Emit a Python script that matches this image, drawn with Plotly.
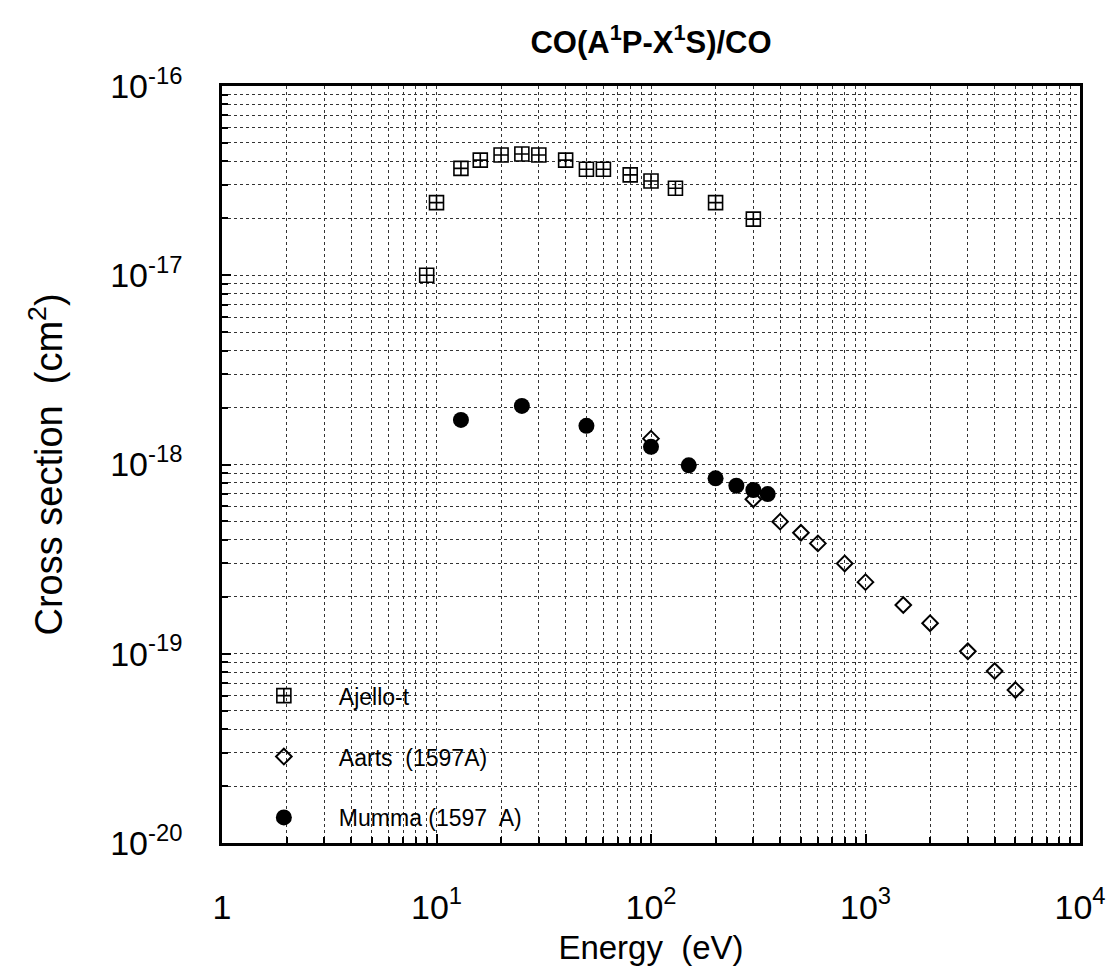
import plotly.graph_objects as go

# ---------------- data ----------------
ajello_energy = [9, 10, 13, 16, 20, 25, 30, 40, 50, 60, 80, 100, 130, 200, 300]
ajello_cross = [1.0e-17, 2.42e-17, 3.67e-17, 4.06e-17, 4.32e-17, 4.37e-17, 4.32e-17,
                4.06e-17, 3.63e-17, 3.63e-17, 3.39e-17, 3.15e-17, 2.88e-17, 2.42e-17, 1.98e-17]

aarts_energy = [100, 300, 400, 500, 600, 800, 1000, 1500, 2000, 3000, 4000, 5000]
aarts_cross = [1.37e-18, 6.55e-19, 4.99e-19, 4.36e-19, 3.83e-19, 3.0e-19, 2.39e-19,
               1.81e-19, 1.45e-19, 1.03e-19, 8.1e-20, 6.43e-20]

mumma_energy = [13, 25, 50, 100, 150, 200, 250, 300, 350]
mumma_cross = [1.72e-18, 2.04e-18, 1.60e-18, 1.24e-18, 9.9e-19, 8.45e-19, 7.73e-19,
               7.33e-19, 6.98e-19]

x_tick_vals = [1, 10, 100, 1000, 10000]
x_tick_text = ["1", "10<sup>1</sup>", "10<sup>2</sup>", "10<sup>3</sup>", "10<sup>4</sup>"]
y_tick_vals = [1e-20, 1e-19, 1e-18, 1e-17, 1e-16]
y_tick_text = ["10<sup>-20</sup>", "10<sup>-19</sup>", "10<sup>-18</sup>",
               "10<sup>-17</sup>", "10<sup>-16</sup>"]

x_minor = [m * 10 ** d for d in range(0, 4) for m in range(2, 10)]
y_minor = [m * 10.0 ** d for d in range(-20, -16) for m in range(2, 10)]

FONT = "Liberation Sans, Arial, Helvetica, sans-serif"

fig = go.Figure()
fig.add_trace(go.Scatter(
    x=ajello_energy, y=ajello_cross, mode="markers", name="Ajello-t",
    legendgroup="a",
    marker=dict(symbol="square-cross-open", size=14, color="black",
                line=dict(width=1.6, color="black"))))
fig.add_trace(go.Scatter(
    x=aarts_energy, y=aarts_cross, mode="markers", name="Aarts  (1597A)",
    legendgroup="b",
    marker=dict(symbol="diamond-open", size=12, color="black",
                line=dict(width=2, color="black"))))
fig.add_trace(go.Scatter(
    x=mumma_energy, y=mumma_cross, mode="markers", name="Mumma (1597  A)",
    legendgroup="c",
    marker=dict(symbol="circle", size=16, color="black",
                line=dict(width=0, color="black"))))

axis_common = dict(
    type="log",
    showline=True, linewidth=2.5, linecolor="black", mirror=True,
    ticks="inside", ticklen=9, tickwidth=1.5, tickcolor="black",
    showgrid=True, gridcolor="#333", griddash="dot", gridwidth=1,
    zeroline=False,
    tickfont=dict(family=FONT, size=34, color="black"),
)

fig.update_xaxes(
    **axis_common,
    range=[0, 4],
    tickmode="array", tickvals=x_tick_vals, ticktext=x_tick_text,
    ticklabelstandoff=32,
    minor=dict(tickmode="array", tickvals=x_minor, ticks="inside", ticklen=6,
               tickcolor="black", showgrid=True, gridcolor="#333",
               griddash="dot", gridwidth=1),
    title=dict(text="Energy  (eV)", font=dict(family=FONT, size=33, color="black"),
               standoff=12),
)
fig.update_yaxes(
    **axis_common,
    range=[-20, -16],
    tickmode="array", tickvals=y_tick_vals, ticktext=y_tick_text,
    ticklabelstandoff=30,
    minor=dict(tickmode="array", tickvals=y_minor, ticks="inside", ticklen=6,
               tickcolor="black", showgrid=True, gridcolor="#333",
               griddash="dot", gridwidth=1),
    title=dict(text="Cross section  (cm<sup>2</sup>)",
               font=dict(family=FONT, size=38, color="black"), standoff=36),
)

fig.update_layout(
    width=1119, height=975,
    margin=dict(l=222, r=39, t=86, b=132),
    paper_bgcolor="white", plot_bgcolor="white",
    title=dict(text="<b>CO(A<sup>1</sup>P-X<sup>1</sup>S)/CO</b>",
               font=dict(family=FONT, size=31, color="black"),
               x=0.5, xref="paper", xanchor="center",
               y=1 - 42 / 975, yref="container", yanchor="middle"),
    showlegend=True,
    legend=dict(x=0.008, y=0.005, xanchor="left", yanchor="bottom",
                bgcolor="rgba(0,0,0,0)", borderwidth=0,
                font=dict(family=FONT, size=23, color="black"),
                itemwidth=100, tracegroupgap=28),
)

fig.write_html("out.html")
